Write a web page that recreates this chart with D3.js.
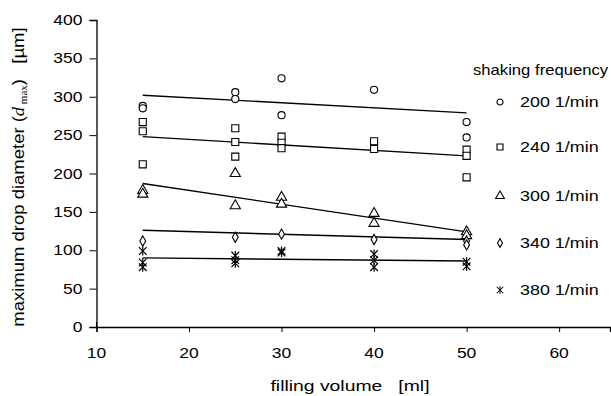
<!DOCTYPE html>
<html>
<head>
<meta charset="utf-8">
<script src="https://cdn.jsdelivr.net/npm/d3@7"></script>
<style>
  body { margin: 0; background: #fff; }
  text { font-family: "Liberation Sans", Arial, sans-serif; fill: #000; }
</style>
</head>
<body>
<script>
// frequency series, values
var series = ['200 1/min', '240 1/min', '300 1/min', '340 1/min', '380 1/min'];
var symbols = ['circle', 'square', 'triangle', 'diamond', 'star'];

// points: [filling volume, d max]
var pts200 = [[15, 288], [15, 285], [25, 306], [25, 297], [30, 324], [30, 276], [40, 309], [50, 267], [50, 247]];
var pts240 = [[15, 267], [15, 255], [15, 212], [25, 259], [25, 241], [25, 222], [30, 248], [30, 240], [30, 233], [40, 242], [40, 232], [50, 231], [50, 223], [50, 195]];
var pts300 = [[15, 178], [15, 173], [25, 200], [25, 158], [30, 169], [30, 160], [40, 148], [40, 135], [50, 124], [50, 119]];
var pts340 = [[15, 112], [25, 117], [30, 121], [40, 114], [50, 112], [50, 107]];
var pts380 = [[15, 99], [15, 84], [15, 78], [25, 93], [25, 87], [25, 83], [30, 99], [30, 97], [40, 95], [40, 87], [40, 78], [50, 85], [50, 79]];
var allPts = [pts200, pts240, pts300, pts340, pts380];

// trend lines [start at 15 ml, end at 50 ml]
var lineX = [15, 50];
var trend = [[302, 279], [248, 223], [187, 124], [126, 114], [90, 86]];

var xTicks = [10, 20, 30, 40, 50, 60];
var yTicks = [0, 50, 100, 150, 200, 250, 300, 350, 400];

var W = 611, H = 396;
var SX = 1.25; // the original type is set wide
var svg = d3.select('body').append('svg').attr('width', W).attr('height', H);

var x = d3.scaleLinear().domain([10, 65.5]).range([96.5, 610]);
var y = d3.scaleLinear().domain([0, 400]).range([327, 20]);

// wide text helper
function wideText(px, py, str, anchor, size, sx) {
  return svg.append('text')
    .attr('transform', 'translate(' + px + ',' + py + ') scale(' + sx + ',1)')
    .attr('text-anchor', anchor).style('font-size', size + 'px')
    .attr('xml:space', 'preserve').text(str);
}

// axes
var xa = svg.append('g').attr('transform', 'translate(0,' + y(0) + ')')
  .call(d3.axisBottom(x).tickValues(xTicks).tickSize(5).tickFormat(''));
xa.select('.domain').attr('stroke-width', 1.3);
var ya = svg.append('g').attr('transform', 'translate(' + x(10) + ',0)')
  .call(d3.axisLeft(y).tickValues(yTicks).tickSize(7).tickFormat(''));
ya.select('.domain').attr('stroke-width', 1.3);
// little tick above origin
svg.append('line').attr('x1', x(10)).attr('x2', x(10)).attr('y1', y(0) - 5).attr('y2', y(0)).attr('stroke', '#000');

xTicks.forEach(function(t) {
  wideText(x(t), 358, String(t), 'middle', 14, SX);
});
yTicks.forEach(function(t) {
  wideText(x(10) - 14, y(t) + 5, String(t), 'end', 14, SX);
});

// trend lines
trend.forEach(function(t) {
  svg.append('line')
    .attr('x1', x(lineX[0])).attr('y1', y(t[0]))
    .attr('x2', x(lineX[1])).attr('y2', y(t[1]))
    .attr('stroke', '#000').attr('stroke-width', 1.4);
});

var symType = {
  circle: d3.symbolCircle, square: d3.symbolSquare, triangle: d3.symbolTriangle,
  diamond: d3.symbolDiamond
};
var symSize = { circle: 40, square: 50, triangle: 45, diamond: 30 };

function drawSym(g, kind, cx, cy, k) {
  k = k || 1;
  if (kind === 'star') {
    var p = g.append('g').attr('transform', 'translate(' + cx + ',' + cy + ') scale(' + k + ')');
    p.append('path').attr('d', d3.symbol(d3.symbolTimes, 40)()).attr('stroke', '#000').attr('stroke-width', 1.2).attr('fill', 'none');
    p.append('line').attr('x1', 0).attr('x2', 0).attr('y1', -4.5).attr('y2', 4.5).attr('stroke', '#000').attr('stroke-width', 1.2);
    return;
  }
  g.append('path')
    .attr('transform', 'translate(' + cx + ',' + cy + ')')
    .attr('d', d3.symbol(symType[kind], symSize[kind] * k * k)())
    .attr('fill', '#fff').attr('stroke', '#000').attr('stroke-width', 1.1);
}

var marks = svg.append('g');
allPts.forEach(function(pts, i) {
  pts.forEach(function(d) {
    drawSym(marks, symbols[i], x(d[0]), y(d[1]));
  });
});

// legend
wideText(473, 75, 'shaking frequency', 'start', 14, 1.19);
var legY = [102, 147, 196, 243, 290];
series.forEach(function(s, i) {
  var lg = svg.append('g');
  drawSym(lg, symbols[i], 500, legY[i], 0.85);
  wideText(520, legY[i] + 5, s, 'start', 14, 1.28);
});

// axis titles
wideText(350, 391, 'filling volume   [ml]', 'middle', 15, 1.29);

var yt = svg.append('text').attr('transform', 'translate(24,177) scale(0.9,1) rotate(-90)').attr('text-anchor', 'middle')
  .style('font-size', '18.5px').attr('xml:space', 'preserve');
yt.append('tspan').text('maximum drop diameter (');
yt.append('tspan').style('font-family', '"Liberation Serif", serif').style('font-style', 'italic').text('d');
yt.append('tspan').style('font-family', '"Liberation Serif", serif').style('font-size', '11px').attr('dy', 3).text(' max');
yt.append('tspan').attr('dy', -3).text(')   [µm]');
</script>
</body>
</html>
